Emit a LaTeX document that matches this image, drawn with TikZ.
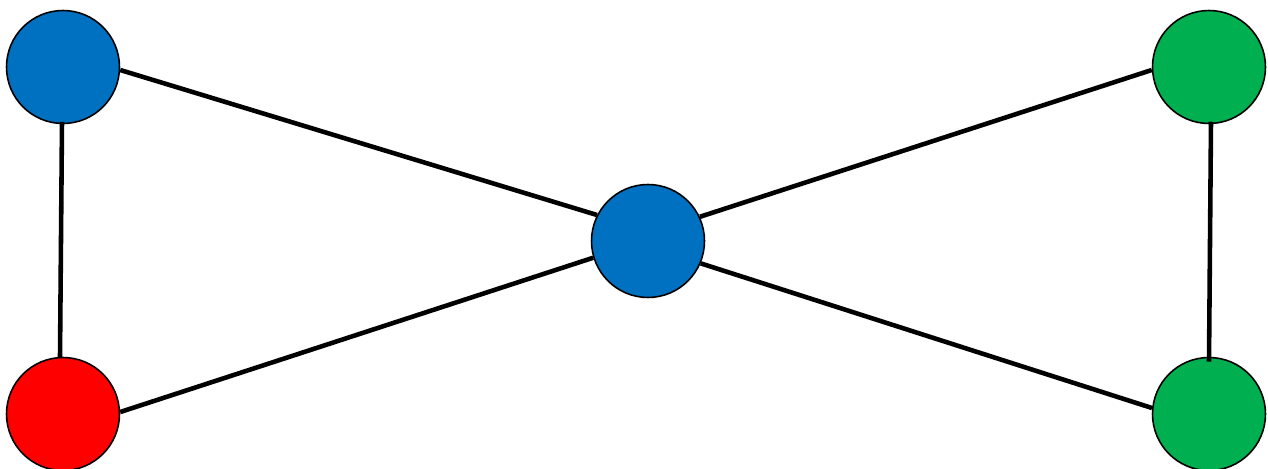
\documentclass[tikz,border=0pt]{standalone}
\usepackage{xcolor}
\definecolor{vblue}{HTML}{0070C0}
\definecolor{vred}{HTML}{FF0000}
\definecolor{vgreen}{HTML}{00B050}

\begin{document}
\begin{tikzpicture}[x=0.02cm,y=-0.02cm,
  vertex/.style={circle,draw=black,line width=0.9pt,minimum size=2.26cm,inner sep=0pt},
  edge/.style={line width=2.6pt,black}]

\useasboundingbox (0,0) rectangle (1268,469);

% Vertices
\node[vertex,fill=vblue] (tl) at (63,67) {};
\node[vertex,fill=vred] (bl) at (63,414) {};
\node[vertex,fill=vblue] (mid) at (648,241) {};
\node[vertex,fill=vgreen] (tr) at (1209,67) {};
\node[vertex,fill=vgreen] (br) at (1209,414) {};

% Edges
\draw[edge] ([yshift=0.05cm]tl.-91) -- (bl.93);
\draw[edge] (tl.-3) -- (mid.153);
\draw[edge] (bl.2) -- (mid.197);
\draw[edge] (mid.25) -- (tr.183);
\draw[edge] (mid.-23) -- (br.174);
\draw[edge] ([yshift=0.05cm]tr.-88) -- ([yshift=-0.1cm]br.90);
\end{tikzpicture}
\end{document}
